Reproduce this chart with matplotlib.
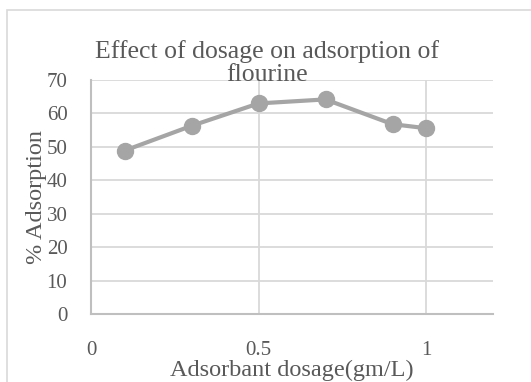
import matplotlib
matplotlib.use("Agg")
import matplotlib.pyplot as plt
from matplotlib.patches import Rectangle

# adsorbent dosage (gm/L) and % adsorption of fluorine
dosage = [0.1, 0.3, 0.5, 0.7, 0.9, 1.0]
adsorption = [48.9, 56.3, 63.0, 64.2, 56.8, 55.6]

x_ticks = [0, 0.5, 1]
x_tick_labels = ["0", "0.5", "1"]
y_ticks = [0, 10, 20, 30, 40, 50, 60, 70]

plt.rcParams['font.family'] = ['Liberation Serif', 'DejaVu Serif']
txt = '#595959'

W, H = 531, 382
fig = plt.figure(figsize=(W / 100, H / 100), dpi=100)

# chart area border
fig.patches.append(Rectangle((7 / W, -0.1), 1.2, 1 - 10 / H + 0.1, transform=fig.transFigure,
                             fill=False, edgecolor='#D9D9D9', linewidth=1.2))

ax = fig.add_axes([91 / W, 1 - 314.3 / H, (493 - 91) / W, (314.3 - 80) / H])
ax.plot(dosage, adsorption, color='#A5A5A5', linewidth=3, marker='o',
        markersize=11.5, markerfacecolor='#A5A5A5', markeredgecolor='#A5A5A5', zorder=3)

ax.set_xlim(0, 1.2)
ax.set_ylim(0, 70)
ax.set_xticks(x_ticks)
ax.set_xticklabels(x_tick_labels)
ax.set_yticks(y_ticks)
ax.tick_params(length=0, labelsize=15, labelcolor=txt)
ax.tick_params(axis='x', pad=19)
ax.tick_params(axis='y', pad=17)
ax.grid(True, color='#D9D9D9', linewidth=1.3)
ax.set_axisbelow(True)
for s in ('top', 'right'):
    ax.spines[s].set_visible(False)
for s in ('left', 'bottom'):
    ax.spines[s].set_color('#BFBFBF')
    ax.spines[s].set_linewidth(1.5)

ax.set_xlabel('Adsorbant dosage(gm/L)', fontsize=17.5, color=txt, labelpad=0)
ax.set_ylabel('% Adsorption', fontsize=17.5, color=txt, labelpad=0)

fig.text(267 / W, 1 - 63 / H, 'Effect of dosage on adsorption of\nflourine', ha='center',
         va='center', fontsize=18.5, color=txt, linespacing=1.1)

fig.savefig('out.png', dpi=100)
